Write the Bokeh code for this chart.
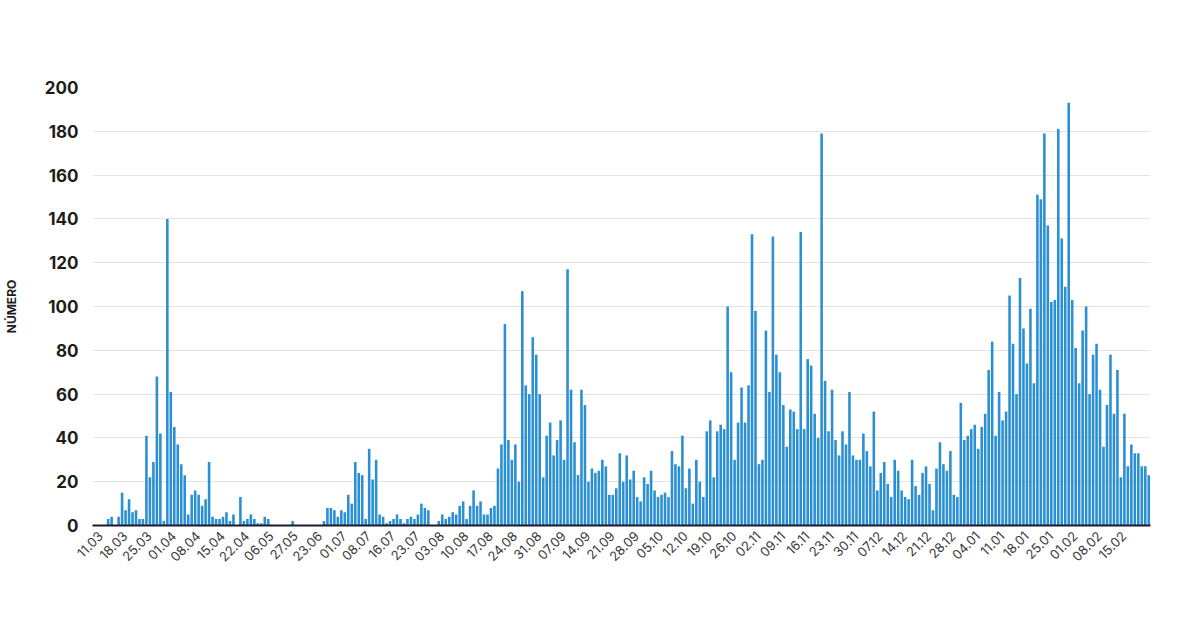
import math
from bokeh.plotting import figure
from bokeh.models import Range1d, FixedTicker, ColumnDataSource
from bokeh.embed import file_html
from bokeh.resources import INLINE

tick_labels = ["11.03", "18.03", "25.03", "01.04", "08.04", "15.04", "22.04", "06.05",
               "27.05", "23.06", "01.07", "08.07", "16.07", "23.07", "03.08", "10.08",
               "17.08", "24.08", "31.08", "07.09", "14.09", "21.09", "28.09", "05.10",
               "12.10", "19.10", "26.10", "02.11", "09.11", "16.11", "23.11", "30.11",
               "07.12", "14.12", "21.12", "28.12", "04.01", "11.01", "18.01", "25.01",
               "01.02", "08.02", "15.02"]
tick_step = 7

values = [
    0, 0, 0, 0, 3, 4, 0, 4, 15, 7, 12, 6, 7, 3, 3,
    41, 22, 29, 68, 42, 2, 140,
    61, 45, 37, 28, 23, 5, 14, 16, 14, 9, 12, 29, 4, 3, 3, 4, 6, 2, 5, 0, 13, 2, 3, 5, 3, 1, 1, 4, 3,
    0, 0, 0, 0, 0, 0, 2, 0, 0, 0, 0, 0, 0, 0, 0,
    2, 8, 8, 7, 4, 7, 6, 14, 10, 29, 24, 23, 3, 35, 21, 30,
    5, 4, 1, 2, 3, 5, 3, 1, 3, 4, 3, 5, 10, 8, 7, 0, 0, 2, 5, 3, 4, 6, 5, 9, 11, 3, 9,
    16, 9, 11, 5, 5, 8, 9, 26, 37, 92, 39, 30, 37, 20, 107, 64, 60, 86, 78, 60, 22, 41, 47, 32, 39, 48, 30,
    117, 62, 38, 23, 62, 55, 20, 26, 24, 25, 30, 27, 14, 14, 17, 33, 20, 32, 21, 25, 13, 11, 22, 19, 25, 16, 13, 14,
    15, 13, 34, 28, 27, 41, 17, 26, 10, 30, 20, 13, 43, 48, 22, 43, 46, 44, 100, 70, 30, 47, 63, 47, 64, 133, 98,
    28, 30, 89, 61, 132, 78, 70, 55, 36, 53, 52, 44, 134, 44, 76, 73, 51, 40, 179, 66, 43, 62, 39, 32, 43, 37, 61,
    32, 30, 30, 42, 34, 27, 52, 16, 24, 29, 19, 13, 30, 25, 16, 13, 12, 30, 18, 14, 24, 27, 19, 7, 26, 38,
    28, 25, 34, 14, 13, 56, 39, 41, 44, 46, 35, 45, 51, 71, 84, 41, 61, 48, 52, 105, 83, 60, 113, 90, 74, 99, 65,
    151, 149, 179, 137, 102, 103, 181, 131, 109, 193, 103, 81, 65, 89, 100, 60, 78, 83, 62, 36, 55, 78, 51, 71,
    22, 51, 27, 37, 33, 33, 27, 27, 23,
]

y_ticks = list(range(0, 201, 20))
y_title = "NÚMERO"

n = len(values)
src = ColumnDataSource(dict(x=list(range(n)), top=values))

p = figure(frame_width=1058, frame_height=438, output_backend="svg", toolbar_location=None,
           x_range=Range1d(-0.5, n - 0.5), y_range=Range1d(0, 200),
           min_border_left=90, min_border_right=52, min_border_top=87, min_border_bottom=103)

p.vbar(x="x", top="top", width=0.74, source=src, fill_color="#2a8fd3", line_color=None)

p.outline_line_color = None
p.background_fill_color = "white"
p.border_fill_color = "white"

p.xgrid.grid_line_color = None
p.ygrid.grid_line_color = "#e3e3e3"
p.ygrid.grid_line_width = 1
p.ygrid.ticker = FixedTicker(ticks=y_ticks)

# y axis
p.yaxis.ticker = FixedTicker(ticks=y_ticks)
p.yaxis.axis_line_color = None
p.yaxis.major_tick_line_color = None
p.yaxis.minor_tick_line_color = None
p.yaxis.major_tick_out = 0
p.yaxis.major_tick_in = 0
p.yaxis.minor_tick_out = 0
p.yaxis.minor_tick_in = 0
p.yaxis.major_label_text_font = "Inter"
p.yaxis.major_label_text_font_style = "bold"
p.yaxis.major_label_text_font_size = "17px"
p.yaxis.major_label_text_color = "#1d1d1b"
p.yaxis.major_label_standoff = 14
p.yaxis.axis_label = y_title
p.yaxis.axis_label_text_font = "Inter"
p.yaxis.axis_label_text_font_style = "bold"
p.yaxis.axis_label_text_font_size = "12px"
p.yaxis.axis_label_text_color = "#1d1d1b"
p.yaxis.axis_label_standoff = 23

# x axis: rotated labels sit slightly right of their bar, as in the original
label_shift = 1.8
xt = [i * tick_step + label_shift for i in range(len(tick_labels))]
p.xaxis.ticker = FixedTicker(ticks=xt)
p.xaxis.major_label_overrides = {t: lab for t, lab in zip(xt, tick_labels)}
p.xaxis.major_label_orientation = math.pi / 4
p.xaxis.major_label_text_font = "Inter"
p.xaxis.major_label_text_font_size = "13px"
p.xaxis.major_label_text_color = "#3a3a3a"
p.xaxis.major_label_standoff = 8
p.xaxis.axis_line_color = "#1b1b2b"
p.xaxis.axis_line_width = 2
p.xaxis.major_tick_line_color = None
p.xaxis.minor_tick_line_color = None
p.xaxis.major_tick_out = 0
p.xaxis.major_tick_in = 0
p.xaxis.minor_tick_out = 0
p.xaxis.minor_tick_in = 0

open("out.html", "w").write(file_html(p, INLINE))
